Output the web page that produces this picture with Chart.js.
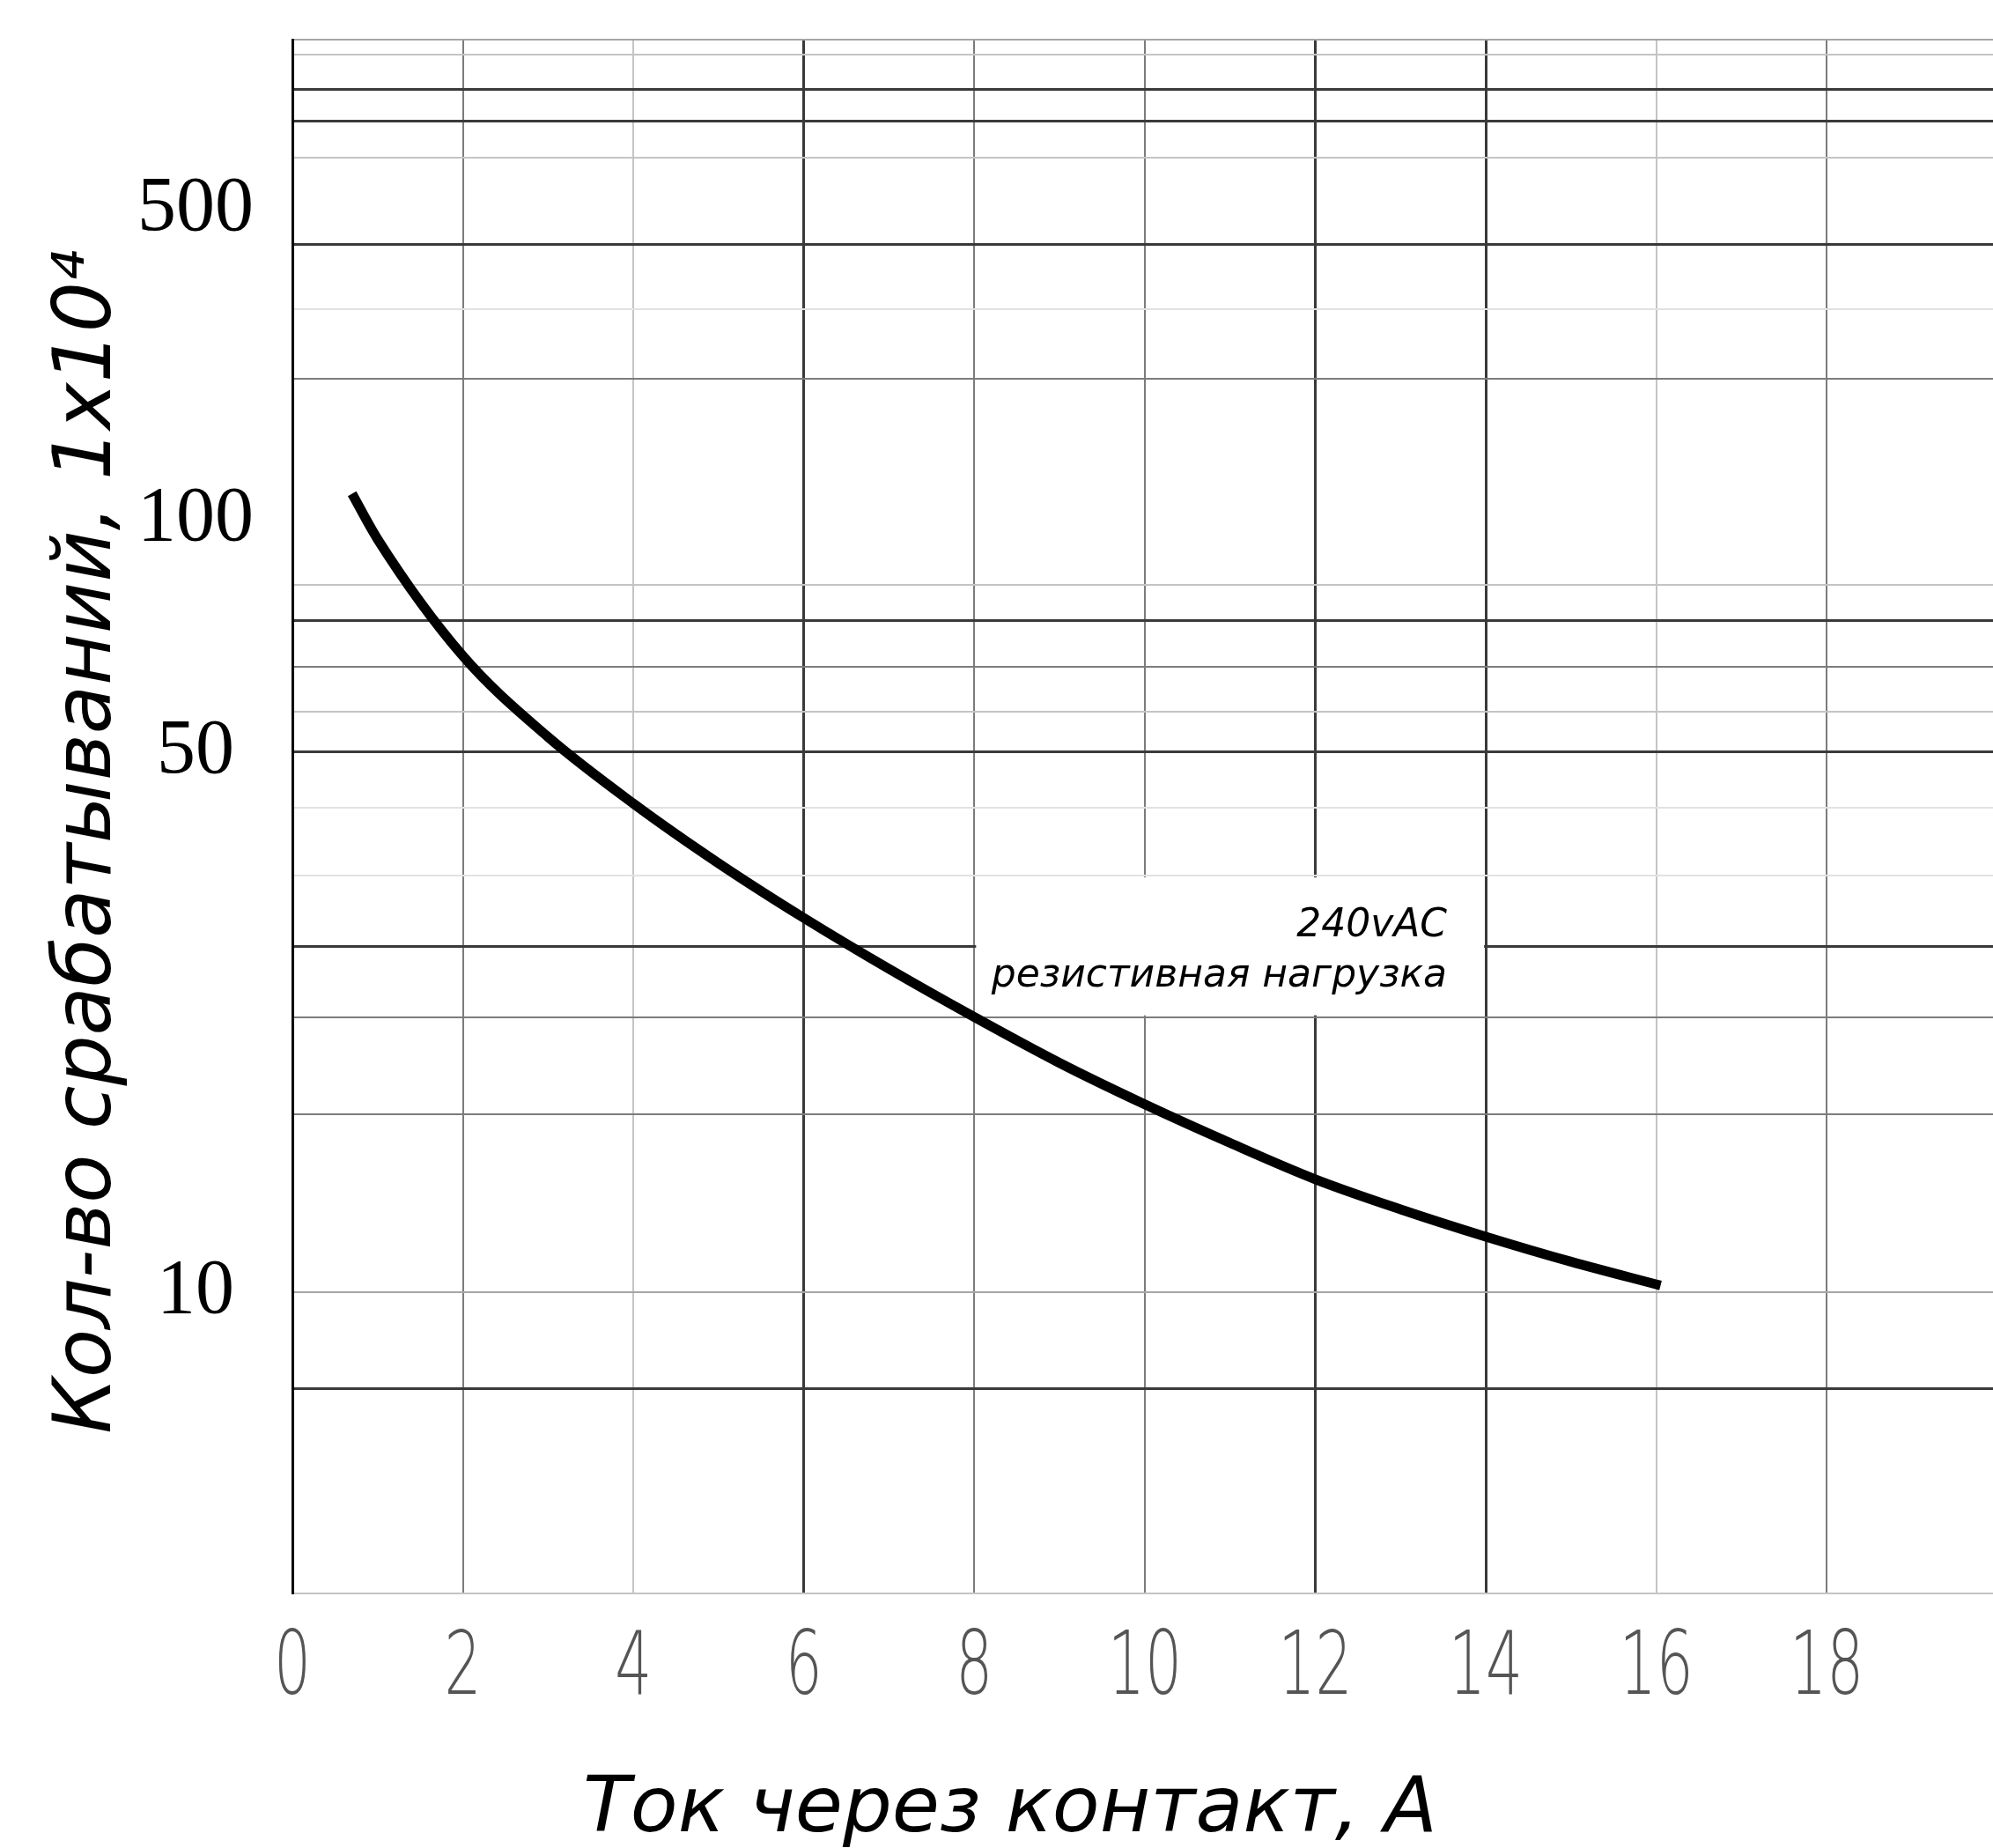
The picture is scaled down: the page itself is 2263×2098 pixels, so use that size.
<!DOCTYPE html>
<html>
<head>
<meta charset="utf-8">
<script src="https://cdn.jsdelivr.net/npm/chart.js@4.4.1/dist/chart.umd.min.js"></script>
<style>
  html, body { margin: 0; padding: 0; background: #fff; }
  canvas { display: block; }
</style>
</head>
<body>
<canvas id="lifeChart" width="2263" height="2098"></canvas>
<script>
// Current through the contact, A
const currentA = [0.7, 1, 2, 3, 4, 5, 6, 7, 8, 9, 10, 11, 12, 13, 14, 15, 16.05];
// Number of operations, x10^4
const operations = [108, 94.3, 66.6, 52.3, 42.9, 35.9, 30.5, 26.2, 22.7, 19.8, 17.5, 15.6, 14.0, 12.8, 11.8, 10.95, 10.2];

// x axis
const xMin = 0;
const xMax = 19.95;
const xTicks = [0, 2, 4, 6, 8, 10, 12, 14, 16, 18];
const xTickLabels = ['0', '2', '4', '6', '8', '10', '12', '14', '16', '18'];
const xGridTone = ['axis', 'mid', 'light', 'dark', 'mid', 'mid', 'dark', 'dark', 'light', 'mid'];

// y axis (log), the drawn grid is irregular so its lines are listed one by one
const yMin = 4.07;
const yMax = 418;
const yGridValues = [4.07, 7.51, 10, 17.0, 22.7, 28.0, 34.6, 42.4, 50, 56.4, 64.5, 74.1, 82.3, 152, 187, 227, 294, 328, 360, 400, 418];
const yGridTone = ['light', 'dark', 'midlight', 'mid', 'mid', 'dark', 'vlight', 'vlight', 'dark', 'light', 'mid', 'dark', 'light', 'mid', 'vlight', 'dark', 'light', 'dark', 'dark', 'light', 'midlight'];
// the source prints "500" where its own scale reads about 250
const yLabelAt = [10, 50, 100, 252];
const yLabelText = ['10', '50', '100', '500'];

// note box, in axis units
const noteX = [8, 14];
const noteY = [22.7, 34.6];
const noteLines = ['240vAC', 'резистивная нагрузка'];

const tones = {
    axis:     { color: '#000000', width: 3 },
    dark:     { color: '#3a3a3a', width: 3 },
    mid:      { color: '#7c7c7c', width: 2 },
    midlight: { color: '#a6a6a6', width: 2 },
    light:    { color: '#c4c4c4', width: 2 },
    vlight:   { color: '#e2e2e2', width: 2 },
    none:     { color: 'rgba(0,0,0,0)', width: 0 }
};

function near(a, b) { return Math.abs(a - b) < 1e-6 * Math.max(1, Math.abs(b)); }
function yTone(v) {
    const i = yGridValues.findIndex(g => near(g, v));
    return i >= 0 ? tones[yGridTone[i]] : tones.none;
}
function xTone(v) {
    const i = xTicks.findIndex(t => near(t, v));
    return i >= 0 ? tones[xGridTone[i]] : tones.none;
}
function yLabel(v) {
    const i = yLabelAt.findIndex(t => near(t, v));
    return i >= 0 ? yLabelText[i] : '';
}

// white box with the load note, sitting on the grid under the curve
const notePlugin = {
    id: 'note',
    beforeDatasetsDraw(chart) {
        const { ctx, scales: { x, y } } = chart;
        const left = x.getPixelForValue(noteX[0]);
        const right = x.getPixelForValue(noteX[1]);
        const top = y.getPixelForValue(noteY[1]);
        const bottom = y.getPixelForValue(noteY[0]);
        ctx.save();
        ctx.fillStyle = '#fff';
        ctx.fillRect(left + 2, top + 2, right - left - 4, bottom - top - 4);
        ctx.fillStyle = '#000';
        ctx.font = 'italic 44px "DejaVu Sans"';
        ctx.textAlign = 'right';
        ctx.textBaseline = 'alphabetic';
        ctx.fillText(noteLines[0], right - 44, top + 69);
        ctx.fillText(noteLines[1], right - 44, top + 126);
        ctx.restore();
    }
};

// thin, narrow stencil-like numbers under the x axis
const xLabelPlugin = {
    id: 'xLabels',
    afterDraw(chart) {
        const { ctx, chartArea, scales: { x } } = chart;
        ctx.save();
        ctx.font = '200 100px "DejaVu Sans"';
        ctx.fillStyle = '#555';
        ctx.textAlign = 'center';
        ctx.textBaseline = 'alphabetic';
        xTicks.forEach((v, i) => {
            ctx.save();
            ctx.translate(x.getPixelForValue(v), chartArea.bottom + 114);
            ctx.scale(0.66, 1);
            ctx.fillText(xTickLabels[i], 0, 0);
            ctx.restore();
        });
        ctx.restore();
    }
};

new Chart(document.getElementById('lifeChart'), {
    type: 'line',
    data: {
        datasets: [{
            data: currentA.map((a, i) => ({ x: a, y: operations[i] })),
            borderColor: '#000',
            borderWidth: 11,
            pointRadius: 0,
            cubicInterpolationMode: 'monotone',
            fill: false
        }]
    },
    options: {
        responsive: false,
        devicePixelRatio: 1,
        animation: false,
        layout: { padding: { left: 31, top: 45, right: 0, bottom: 0 } },
        plugins: {
            legend: { display: false },
            tooltip: { enabled: false },
            title: {
                display: true,
                position: 'bottom',
                text: 'Ток через контакт, А',
                color: '#000',
                font: { family: 'DejaVu Sans', style: 'italic', size: 88, weight: 'normal' },
                padding: { top: 194, bottom: -11 }
            }
        },
        scales: {
            x: {
                type: 'linear',
                min: xMin,
                max: xMax,
                afterBuildTicks: (axis) => { axis.ticks = xTicks.map(v => ({ value: v })); },
                ticks: { display: false },
                grid: {
                    drawTicks: false,
                    color: (c) => xTone(c.tick.value).color,
                    lineWidth: (c) => xTone(c.tick.value).width
                },
                border: { display: false }
            },
            y: {
                type: 'logarithmic',
                min: yMin,
                max: yMax,
                afterBuildTicks: (axis) => {
                    const vals = [...new Set([...yGridValues, ...yLabelAt])].sort((a, b) => a - b);
                    axis.ticks = vals.map(v => ({ value: v }));
                },
                ticks: {
                    autoSkip: false,
                    padding: 44,
                    crossAlign: 'center',
                    color: '#000',
                    font: (c) => ({ family: 'Liberation Serif', size: yLabel(c.tick.value) ? 88 : 1 }),
                    callback: (v) => yLabel(v)
                },
                grid: {
                    drawTicks: false,
                    color: (c) => yTone(c.tick.value).color,
                    lineWidth: (c) => yTone(c.tick.value).width
                },
                border: { display: true, color: '#000', width: 3 },
                title: {
                    display: true,
                    text: 'Кол-во срабатываний, 1x10⁴\u00a0\u00a0',
                    color: '#000',
                    font: { family: 'DejaVu Sans', style: 'italic', size: 90, weight: 'normal' },
                    padding: { top: 17, bottom: -44 }
                }
            }
        }
    },
    plugins: [notePlugin, xLabelPlugin]
});
</script>
</body>
</html>
